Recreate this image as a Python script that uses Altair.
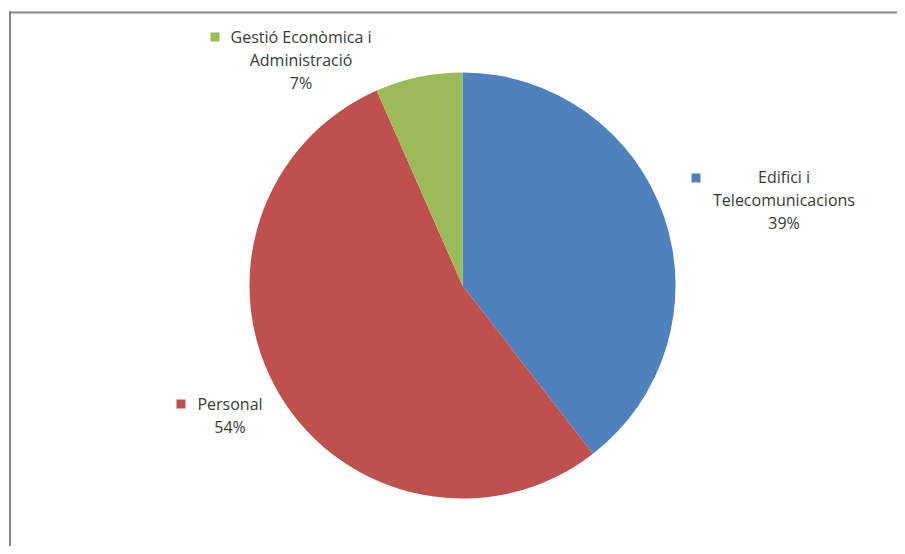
import altair as alt
import pandas as pd

# ---- data ----
categories = ["Edifici i Telecomunicacions", "Personal", "Gestió Econòmica i Administració"]
shares = [39.5, 53.9, 6.6]
pct_labels = ["39%", "54%", "7%"]
label_lines = [["Edifici i", "Telecomunicacions"], ["Personal"], ["Gestió Econòmica i", "Administració"]]
colors = ["#4F81BD", "#C0504D", "#9BBB59"]

df = pd.DataFrame({
    "categoria": categories,
    "valor": shares,
    "ordre": list(range(len(categories))),
    "etiqueta": ["\n".join(lines + [p]) for lines, p in zip(label_lines, pct_labels)],
})

W, H = 889, 538
CX, CY, R = 453.5, 277.5, 213

color_scale = alt.Scale(domain=categories, range=colors)
FONT = "Open Sans"
TXT = "#3a3a3a"

pie = alt.Chart(df).mark_arc(outerRadius=R).encode(
    theta=alt.Theta("valor:Q", stack=True),
    order=alt.Order("ordre:Q"),
    color=alt.Color("categoria:N", scale=color_scale, legend=None),
    x=alt.value(CX),
    y=alt.value(CY),
)

# label anchor layout (text-block centre x, first-line y, key square position)
layout = {
    "Edifici i Telecomunicacions": dict(tx=775, ty=170, sx=687, sy=170),
    "Personal": dict(tx=221, ty=397, sx=172, sy=396),
    "Gestió Econòmica i Administració": dict(tx=292, ty=30, sx=206, sy=29),
}

layers = [pie]
for cat in categories:
    L = layout[cat]
    sub = alt.Chart(df).transform_filter(alt.datum.categoria == cat)
    layers.append(
        sub.mark_text(
            font=FONT, fontSize=16, color=TXT, align="center", baseline="middle",
            lineBreak="\n", lineHeight=23,
        ).encode(text="etiqueta:N", x=alt.value(L["tx"]), y=alt.value(L["ty"]))
    )
    layers.append(
        sub.mark_square(size=81, opacity=1, filled=True).encode(
            color=alt.Color("categoria:N", scale=color_scale, legend=None),
            x=alt.value(L["sx"]), y=alt.value(L["sy"]),
        )
    )

one = pd.DataFrame({"a": [0]})
border_v = alt.Chart(one).mark_rule(color="#868686", strokeWidth=2).encode(
    x=alt.value(1), y=alt.value(3.5), y2=alt.value(H + 10)
)
border_h = alt.Chart(one).mark_rule(color="#868686", strokeWidth=2).encode(
    y=alt.value(4.5), x=alt.value(0), x2=alt.value(W + 10)
)
layers += [border_v, border_h]

chart = alt.layer(*layers).properties(
    width=W, height=H, padding=0, background="white",
    autosize=alt.AutoSizeParams(type="fit", contains="padding"),
).configure_view(strokeWidth=0)

chart.save("out.html", embed_options={"renderer": "svg", "actions": False})
